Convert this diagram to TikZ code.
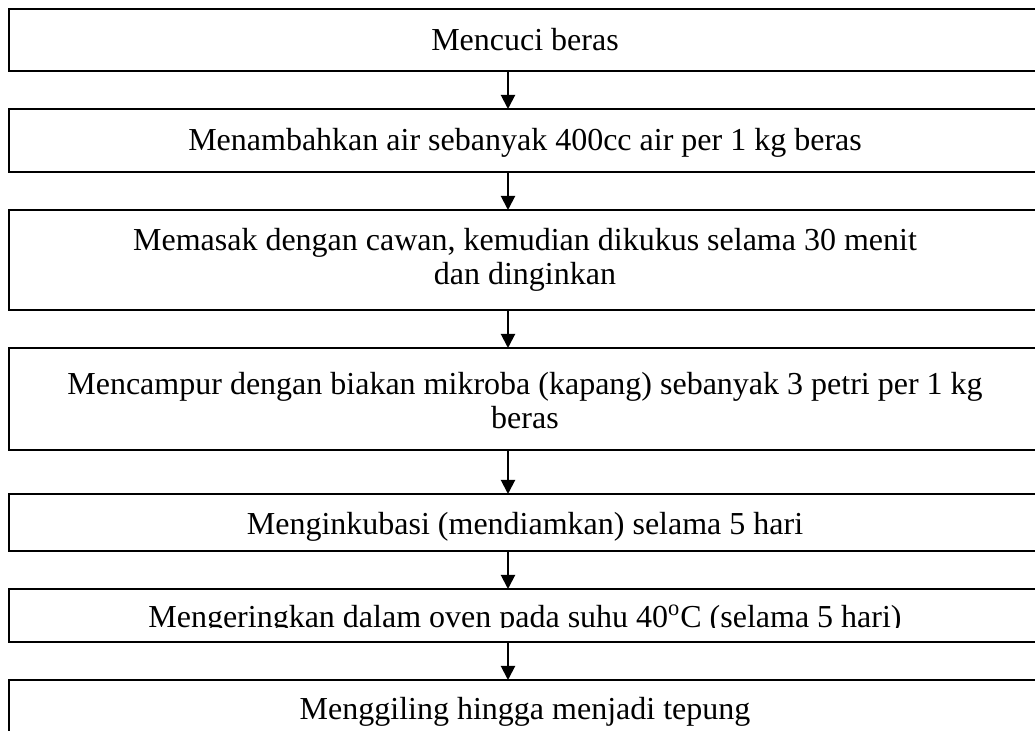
\documentclass[tikz,border=0pt]{standalone}
\usepackage{fontspec}
\setmainfont{Liberation Serif}
\usetikzlibrary{positioning,arrows.meta}

\begin{document}
\begin{tikzpicture}[
    x=0.5pt,
    y=-0.5pt,
    node distance=19pt,
    line width=1pt,
    >={Triangle[width=7pt,length=7pt]},
    stepbox/.style={
		rectangle,
		draw=black,
		outer sep=0pt,
		inner sep=0pt,
		minimum width=518pt
	},
	steptext/.style={
		align=center,
		inner sep=0pt,
		xshift=-1pt,
		font=\fontsize{16pt}{17pt}\selectfont
	}
  ]

\useasboundingbox (0,0) rectangle (1035,731);

% // the boxes
 \node [stepbox, minimum height=31pt, anchor=north west] (box1) at (9,9) {};
 \node [stepbox, minimum height=31.5pt, below=of box1] (box2) {};
 \node [stepbox, minimum height=50pt, below=of box2] (box3) {};
 \node [stepbox, minimum height=51pt, below=of box3] (box4) {};
 \node [stepbox, minimum height=28.5pt, below=22pt of box4] (box5) {};
 \node [stepbox, minimum height=26.5pt, below=of box5] (box6) {};
 \node [stepbox, minimum height=31pt, below=of box6] (box7) {};

% // the texts
 \node [steptext] (text1) at (box1.center) {Mencuci beras};
 \node [steptext, yshift=-1pt] (text2) at (box2.center) {Menambahkan air sebanyak 400cc air per 1 kg beras};
 \node [steptext] (text3) at (box3.center)
 {Memasak dengan cawan, kemudian dikukus selama 30 menit\\dan dinginkan};
 \node [steptext, yshift=-1pt] (text4) at (box4.center)
 {Mencampur dengan biakan mikroba (kapang) sebanyak 3 petri per 1 kg\\beras};
 \node [steptext, yshift=-2pt] (text5) at (box5.center) {Menginkubasi (mendiamkan) selama 5 hari};
 \begin{scope}
  \clip (box6.north west) rectangle ([yshift=7pt]box6.south east);
  \node [steptext, anchor=base] (text6) at ([yshift=7pt]box6.south)
  {Mengeringkan dalam oven pada suhu 40\textsuperscript{o}C (selama 5 hari)};
 \end{scope}
 \node [steptext, anchor=base] (text7) at ([yshift=-20pt]box7.north) {Menggiling hingga menjadi tepung};

% // the arrows
 \draw [->] ([xshift=-9.5pt]box1.south) -- ([xshift=-9.5pt]box2.north);
 \draw [->] ([xshift=-9.5pt]box2.south) -- ([xshift=-9.5pt]box3.north);
 \draw [->] ([xshift=-9.5pt]box3.south) -- ([xshift=-9.5pt]box4.north);
 \draw [->] ([xshift=-9.5pt]box4.south) -- ([xshift=-9.5pt]box5.north);
 \draw [->] ([xshift=-9.5pt]box5.south) -- ([xshift=-9.5pt]box6.north);
 \draw [->] ([xshift=-9.5pt]box6.south) -- ([xshift=-9.5pt]box7.north);

\end{tikzpicture}
\end{document}
